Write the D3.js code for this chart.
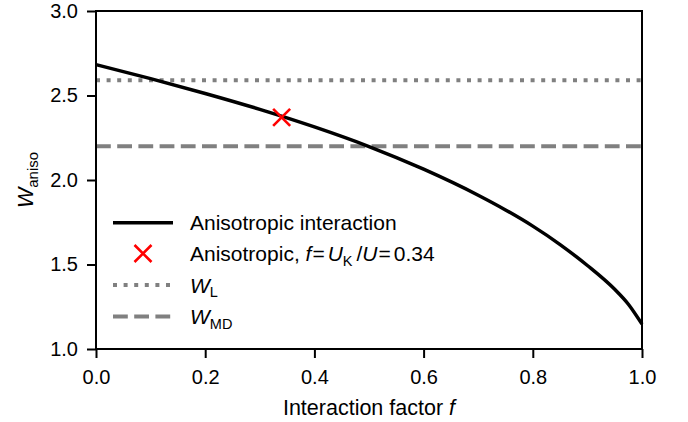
<!DOCTYPE html>
<html><head><meta charset="utf-8">
<script src="https://cdn.jsdelivr.net/npm/d3@7"></script>
<style>body{margin:0;background:#fff}svg{display:block}text{font-family:"Liberation Sans",Arial,sans-serif;fill:#000}</style>
</head><body><svg id="c" width="688" height="422"></svg>
<script>
// data
const fValues = [0, 0.1, 0.2, 0.3, 0.4, 0.5, 0.6, 0.7, 0.75, 0.8, 0.85, 0.9, 0.95, 0.975, 1.0];
const wAniso  = [2.683, 2.600, 2.512, 2.418, 2.314, 2.198, 2.064, 1.910, 1.823, 1.727, 1.618, 1.494, 1.353, 1.265, 1.147];
const markerPoint = [{f: 0.34, w: 2.371}];
const wL = [2.59];
const wMD = [2.20];
const xTicks = [0, 0.2, 0.4, 0.6, 0.8, 1.0];
const yTicks = [1.0, 1.5, 2.0, 2.5, 3.0];

const svg = d3.select("#c");
const x = d3.scaleLinear().domain([0, 1]).range([96, 642]);
const y = d3.scaleLinear().domain([1, 3]).range([349, 11]);

const curveData = fValues.map((f, i) => ({f, w: wAniso[i]}));
const FS_TICK = 20, FS_LEG = 21, FS_LAB = 21.5;

// reference lines
svg.selectAll(".wl").data(wL).enter().append("line")
  .attr("x1", x(0)).attr("x2", x(1)).attr("y1", d => y(d)).attr("y2", d => y(d))
  .attr("stroke", "#808080").attr("stroke-width", 4).attr("stroke-dasharray", "4,6.6");
svg.selectAll(".wmd").data(wMD).enter().append("line")
  .attr("x1", x(0)).attr("x2", x(1)).attr("y1", d => y(d)).attr("y2", d => y(d))
  .attr("stroke", "#808080").attr("stroke-width", 4).attr("stroke-dasharray", "14.8,6.4");

// curve
svg.append("path").datum(curveData)
  .attr("d", d3.line().x(d => x(d.f)).y(d => y(d.w)).curve(d3.curveMonotoneX))
  .attr("fill", "none").attr("stroke", "#000").attr("stroke-width", 3.5);

// marker
const ms = 8.5;
const mk = svg.selectAll(".mk").data(markerPoint).enter().append("g")
  .attr("transform", d => `translate(${x(d.f)},${y(d.w)})`);
mk.append("path").attr("d", `M${-ms},${-ms}L${ms},${ms}M${-ms},${ms}L${ms},${-ms}`)
  .attr("stroke", "#ff0000").attr("stroke-width", 2.6).attr("fill", "none");

// axes
const fmt = d3.format(".1f");
const xa = svg.append("g").attr("transform", "translate(0,349)")
  .call(d3.axisBottom(x).tickValues(xTicks).tickFormat(fmt).tickSize(9).tickPadding(12).tickSizeOuter(0));
const ya = svg.append("g").attr("transform", "translate(96,0)")
  .call(d3.axisLeft(y).tickValues(yTicks).tickFormat(fmt).tickSize(9).tickPadding(9).tickSizeOuter(0));
[xa, ya].forEach(a => {
  a.select(".domain").remove();
  a.selectAll("line").attr("stroke", "#000").attr("stroke-width", 2);
  a.selectAll("text").attr("font-size", FS_TICK).attr("font-family", '"Liberation Sans",Arial,sans-serif');
});
// frame
svg.append("rect").attr("x", 96).attr("y", 11).attr("width", 546).attr("height", 338)
  .attr("fill", "none").attr("stroke", "#000").attr("stroke-width", 2);

// axis labels
const xl = svg.append("text").attr("x", 369).attr("y", 415).attr("text-anchor", "middle").attr("font-size", FS_LAB);
xl.append("tspan").text("Interaction factor ");
xl.append("tspan").attr("font-style", "italic").text("f");

const yl = svg.append("text").attr("transform", "translate(33,180) rotate(-90)").attr("text-anchor", "middle").attr("font-size", FS_LAB);
yl.append("tspan").attr("font-style", "italic").text("W");
yl.append("tspan").attr("font-size", 15).attr("dy", 4.5).text("aniso");

// legend
const lx0 = 113, lx1 = 173, tx = 190;
const rows = [222.7, 253.5, 285, 316.5];
svg.append("line").attr("x1", lx0).attr("x2", lx1).attr("y1", rows[0]).attr("y2", rows[0])
  .attr("stroke", "#000").attr("stroke-width", 3.5);
svg.append("path").attr("transform", `translate(${(lx0+lx1)/2},${rows[1]})`)
  .attr("d", `M${-ms},${-ms}L${ms},${ms}M${-ms},${ms}L${ms},${-ms}`)
  .attr("stroke", "#ff0000").attr("stroke-width", 2.6).attr("fill", "none");
svg.append("line").attr("x1", lx0).attr("x2", lx1).attr("y1", rows[2]).attr("y2", rows[2])
  .attr("stroke", "#808080").attr("stroke-width", 4).attr("stroke-dasharray", "4,6.6");
svg.append("line").attr("x1", lx0).attr("x2", lx1).attr("y1", rows[3]).attr("y2", rows[3])
  .attr("stroke", "#808080").attr("stroke-width", 4).attr("stroke-dasharray", "14.8,6.4");

const sub = 14.5, sdy = 4.5;
svg.append("text").attr("x", tx).attr("y", rows[0] + 7.5).attr("font-size", FS_LEG).text("Anisotropic interaction");
const t2 = svg.append("text").attr("x", tx).attr("y", rows[1] + 7.5).attr("font-size", FS_LEG);
t2.append("tspan").text("Anisotropic, ");
t2.append("tspan").attr("font-style", "italic").text("f");
t2.append("tspan").attr("dx", 1).text("=");
t2.append("tspan").attr("dx", 3).attr("font-style", "italic").text("U");
t2.append("tspan").attr("font-size", sub).attr("dy", sdy).text("K");
t2.append("tspan").attr("dy", -sdy).attr("dx", 4).text("/");
t2.append("tspan").attr("font-style", "italic").text("U");
t2.append("tspan").attr("dx", 1).text("=");
t2.append("tspan").attr("dx", 3).text("0.34");
const t3 = svg.append("text").attr("x", tx).attr("y", rows[2] + 7.5).attr("font-size", FS_LEG);
t3.append("tspan").attr("font-style", "italic").text("W");
t3.append("tspan").attr("font-size", sub).attr("dy", sdy).text("L");
const t4 = svg.append("text").attr("x", tx).attr("y", rows[3] + 7.5).attr("font-size", FS_LEG);
t4.append("tspan").attr("font-style", "italic").text("W");
t4.append("tspan").attr("font-size", sub).attr("dy", sdy).text("MD");
</script></body></html>
